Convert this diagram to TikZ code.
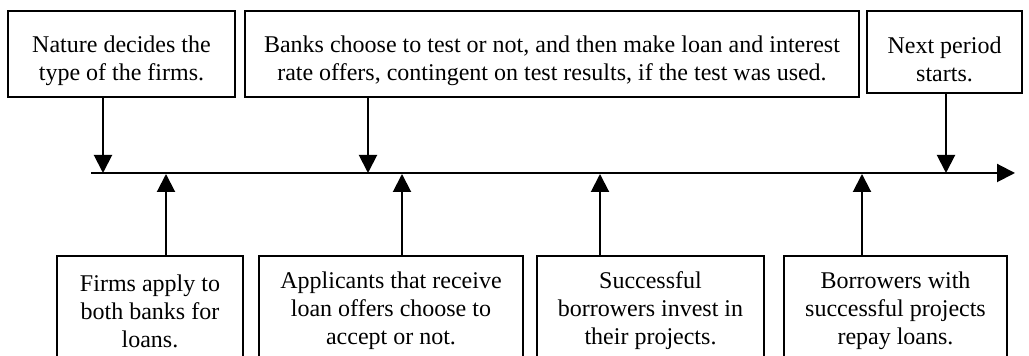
\documentclass[tikz,border=0pt]{standalone}
\usepackage{fontspec}
\setmainfont{Liberation Serif}
\usetikzlibrary{arrows.meta}

\newcommand{\topstrut}{\rule{0pt}{15.5pt}}

\tikzset{
    box/.style={draw, line width=0.75pt, inner sep=0pt, align=center,
        font=\fontsize{12}{14}\selectfont},
    evt/.style={line width=1pt, -{Triangle[width=9pt,length=9pt]}},
}

\begin{document}
\begin{tikzpicture}[x=0.5pt, y=-0.5pt]
    \clip (0,0) rectangle (1029,356);

    % Time line
    \coordinate (start) at (91,173);
    \coordinate (stop) at (1015,173);
    \draw[evt] (start) -- (stop);

    % Event points on the line
    \coordinate (t1) at (103,173);
    \coordinate (t2) at (166,174);
    \coordinate (t3) at (368,173);
    \coordinate (t4) at (402,174);
    \coordinate (t5) at (600,174);
    \coordinate (t6) at (862,174);
    \coordinate (t7) at (946,173);

    % Upper boxes
    \node[box, minimum width=113.5pt, minimum height=43pt] (nature) at (121.5,54)
        {\topstrut Nature decides the\\type of the firms.};
    \node[box, minimum width=307pt, minimum height=43pt] (banks) at (552,54)
        {\topstrut Banks choose to test or not, and then make loan and interest\\rate offers, contingent on test results, if the test was used.};
    \node[box, minimum width=77.5pt, minimum height=41pt] (next) at (944.5,52)
        {\topstrut Next period\\starts.};

    % Lower boxes
    \node[box, minimum width=93pt, minimum height=55pt] (apply) at (150,311)
        {Firms apply to\\both banks for\\loans.};
    \node[box, minimum width=132pt, minimum height=55pt] (accept) at (391,311)
        {Applicants that receive\\loan offers choose to\\accept or not.};
    \node[box, minimum width=113.5pt, minimum height=55pt] (invest) at (650.5,311)
        {Successful\\borrowers invest in\\their projects.};
    \node[box, minimum width=111.5pt, minimum height=55pt] (repay) at (895.5,311)
        {Borrowers with\\successful projects\\repay loans.};

    % Arrows
    \draw[evt] (nature.south -| t1) -- (t1);
    \draw[evt] (banks.south -| t3) -- (t3);
    \draw[evt] (next.south -| t7) -- (t7);
    \draw[evt] (apply.north -| t2) -- (t2);
    \draw[evt] (accept.north -| t4) -- (t4);
    \draw[evt] (invest.north -| t5) -- (t5);
    \draw[evt] (repay.north -| t6) -- (t6);

\end{tikzpicture}
\end{document}
